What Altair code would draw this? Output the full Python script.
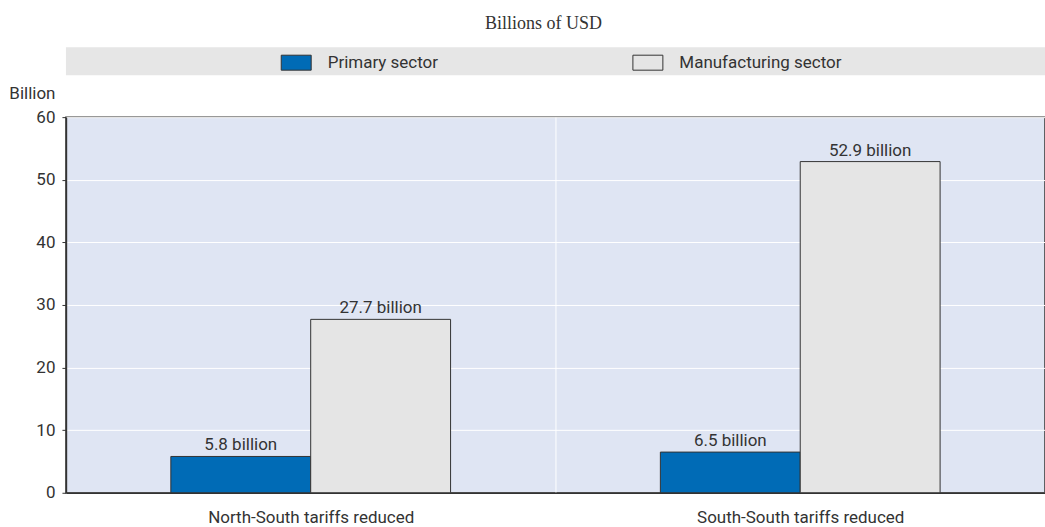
import altair as alt
import pandas as pd

categories = ["North-South tariffs reduced", "South-South tariffs reduced"]
sectors = ["Primary sector", "Manufacturing sector"]
primary = [5.8, 6.5]
manufacturing = [27.7, 52.9]
y_ticks = [0, 10, 20, 30, 40, 50, 60]

rows = []
for i, c in enumerate(categories):
    for s, vals in zip(sectors, [primary, manufacturing]):
        rows.append({"category": c, "sector": s, "value": vals[i],
                     "label": f"{vals[i]} billion"})
df = pd.DataFrame(rows)

FONT = "Roboto, Liberation Sans Narrow, DejaVu Sans Condensed"
TXT = "#333333"
FS = 17

x_enc = alt.X("category:N", sort=categories,
              scale=alt.Scale(paddingInner=0, paddingOuter=0),
              axis=alt.Axis(title=None, labelAngle=0, tickBand="extent", ticks=False,
                            domainColor="#333333", domainWidth=1.5,
                            grid=True, gridColor="white", gridWidth=1,
                            labelFontSize=FS, labelColor=TXT, labelPadding=17,
                            labelLimit=400))
xo_enc = alt.XOffset("sector:N", sort=sectors,
                     scale=alt.Scale(domain=sectors, paddingOuter=0.75, paddingInner=0))
y_enc = alt.Y("value:Q", scale=alt.Scale(domain=[0, 60], nice=False),
              axis=alt.Axis(values=y_ticks, title="Billion", titleAngle=0,
                            titleAlign="right", titleBaseline="middle",
                            titleX=-11, titleY=-24, titleFontSize=FS,
                            titleFontWeight="normal", titleColor=TXT,
                            labelFontSize=FS, labelColor=TXT, labelPadding=7,
                            tickSize=4, tickColor="#333333",
                            domainColor="#333333", domainWidth=1.5,
                            grid=True, gridColor="white", gridWidth=1))

band = alt.Chart(alt.Data(values=[{"a": 1}])).mark_rect(
    color="#e6e6e6").encode(
    x=alt.value(0), x2=alt.value(980), y=alt.value(-70), y2=alt.value(-42))

bars = alt.Chart(df).mark_bar(stroke="#333333", strokeWidth=1).encode(
    x=x_enc, xOffset=xo_enc, y=y_enc,
    color=alt.Color("sector:N",
                    scale=alt.Scale(domain=sectors, range=["#006bb6", "#e5e5e5"]),
                    legend=alt.Legend(title=None, orient="none", direction="horizontal",
                                      legendX=215, legendY=-70, padding=0,
                                      symbolType="M-1,-0.5H1V0.5H-1Z", symbolSize=900,
                                      symbolStrokeColor="#333333", symbolStrokeWidth=1,
                                      symbolOpacity=1,
                                      labelFontSize=FS, labelColor=TXT, labelOffset=16,
                                      columnPadding=192, labelLimit=300)))

text = alt.Chart(df).mark_text(baseline="alphabetic", dy=-6, fontSize=FS,
                               color=TXT, font=FONT).encode(
    x=x_enc, xOffset=xo_enc, y=y_enc, text="label:N")

chart = alt.layer(band, bars, text).properties(
    width=980, height=376,
    autosize=alt.AutoSizeParams(type="none"),
    padding={"left": 66, "top": 117, "right": 0, "bottom": 34},
    title=alt.TitleParams("Billions of USD", font="Liberation Serif", fontSize=18,
                          fontWeight="normal", color=TXT, anchor="middle",
                          frame="group", offset=14, dx=-12),
).configure(font=FONT, background="white").configure_view(
    fill="#dfe5f3", stroke="#333333", strokeWidth=1.5)

chart.save("out.html", embed_options={"renderer": "svg", "actions": False})
